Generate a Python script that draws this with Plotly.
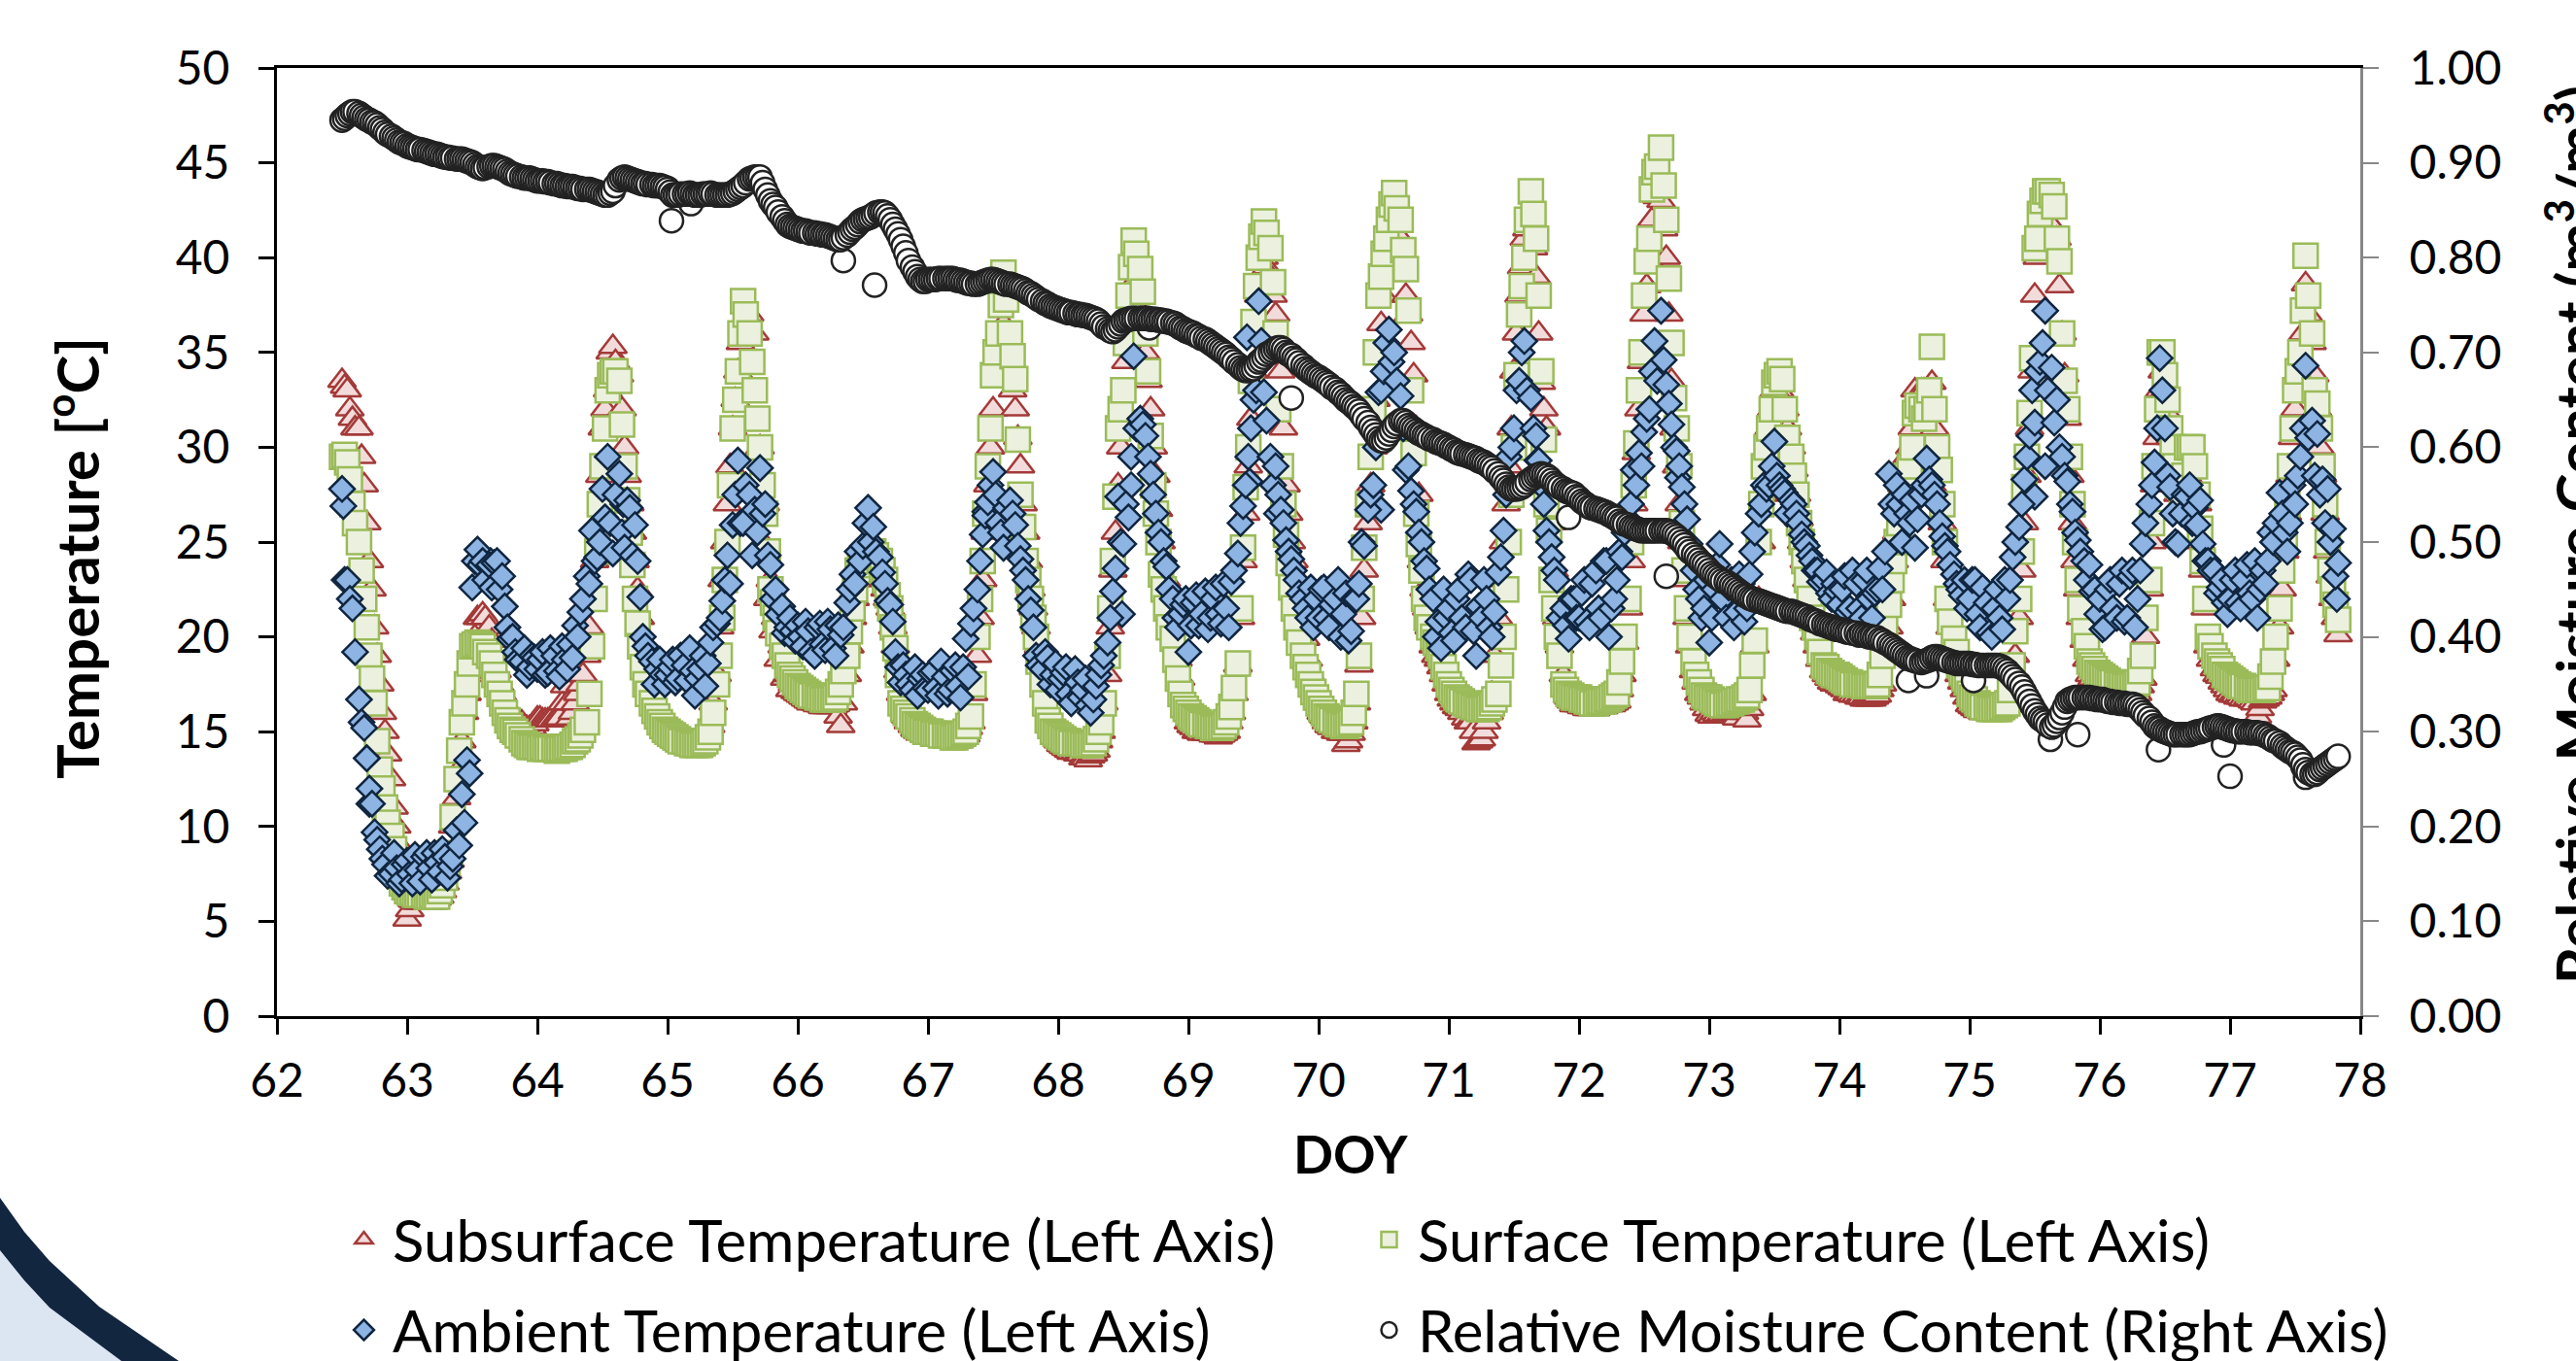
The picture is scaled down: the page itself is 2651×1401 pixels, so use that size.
import plotly.graph_objects as go

doy = [
 62.50,62.54,62.58,62.63,62.67,62.71,62.75,62.79,62.83,62.88,62.92,62.96,
 63.00,63.04,63.08,63.13,63.17,63.21,63.25,63.29,63.33,63.38,63.42,63.46,63.50,63.54,63.58,63.63,63.67,63.71,63.75,63.79,63.83,63.88,63.92,63.96,
 64.00,64.04,64.08,64.13,64.17,64.21,64.25,64.29,64.33,64.38,64.42,64.46,64.50,64.54,64.58,64.63,64.67,64.71,64.75,64.79,64.83,64.88,64.92,64.96,
 65.00,65.04,65.08,65.13,65.17,65.21,65.25,65.29,65.33,65.38,65.42,65.46,65.50,65.54,65.58,65.63,65.67,65.71,65.75,65.79,65.83,65.88,65.92,65.96,
 66.00,66.04,66.08,66.13,66.17,66.21,66.25,66.29,66.33,66.38,66.42,66.46,66.50,66.54,66.58,66.63,66.67,66.71,66.75,66.79,66.83,66.88,66.92,66.96,
 67.00,67.04,67.08,67.13,67.17,67.21,67.25,67.29,67.33,67.38,67.42,67.46,67.50,67.54,67.58,67.63,67.67,67.71,67.75,67.79,67.83,67.88,67.92,67.96,
 68.00,68.04,68.08,68.13,68.17,68.21,68.25,68.29,68.33,68.38,68.42,68.46,68.50,68.54,68.58,68.63,68.67,68.71,68.75,68.79,68.83,68.88,68.92,68.96,
 69.00,69.04,69.08,69.13,69.17,69.21,69.25,69.29,69.33,69.38,69.42,69.46,69.50,69.54,69.58,69.63,69.67,69.71,69.75,69.79,69.83,69.88,69.92,69.96,
 70.00,70.04,70.08,70.13,70.17,70.21,70.25,70.29,70.33,70.38,70.42,70.46,70.50,70.54,70.58,70.63,70.67,70.71,70.75,70.79,70.83,70.88,70.92,70.96,
 71.00,71.04,71.08,71.13,71.17,71.21,71.25,71.29,71.33,71.38,71.42,71.46,71.50,71.54,71.58,71.63,71.67,71.71,71.75,71.79,71.83,71.88,71.92,71.96,
 72.00,72.04,72.08,72.13,72.17,72.21,72.25,72.29,72.33,72.38,72.42,72.46,72.50,72.54,72.58,72.63,72.67,72.71,72.75,72.79,72.83,72.88,72.92,72.96,
 73.00,73.04,73.08,73.13,73.17,73.21,73.25,73.29,73.33,73.38,73.42,73.46,73.50,73.54,73.58,73.63,73.67,73.71,73.75,73.79,73.83,73.88,73.92,73.96,
 74.00,74.04,74.08,74.13,74.17,74.21,74.25,74.29,74.33,74.38,74.42,74.46,74.50,74.54,74.58,74.63,74.67,74.71,74.75,74.79,74.83,74.88,74.92,74.96,
 75.00,75.04,75.08,75.13,75.17,75.21,75.25,75.29,75.33,75.38,75.42,75.46,75.50,75.54,75.58,75.63,75.67,75.71,75.75,75.79,75.83,75.88,75.92,75.96,
 76.00,76.04,76.08,76.13,76.17,76.21,76.25,76.29,76.33,76.38,76.42,76.46,76.50,76.54,76.58,76.63,76.67,76.71,76.75,76.79,76.83,76.88,76.92,76.96,
 77.00,77.04,77.08,77.13,77.17,77.21,77.25,77.29,77.33,77.38,77.42,77.46,77.50,77.54,77.58,77.63,77.67,77.71,77.75,77.79,77.83,
]

doy_half = [
 62.52,62.56,62.60,62.65,62.69,62.73,62.77,62.81,62.85,62.90,62.94,62.98,
 63.02,63.06,63.10,63.15,63.19,63.23,63.27,63.31,63.35,63.40,63.44,63.48,63.52,63.56,63.60,63.65,63.69,63.73,63.77,63.81,63.85,63.90,63.94,63.98,
 64.02,64.06,64.10,64.15,64.19,64.23,64.27,64.31,64.35,64.40,64.44,64.48,64.52,64.56,64.60,64.65,64.69,64.73,64.77,64.81,64.85,64.90,64.94,64.98,
 65.02,65.06,65.10,65.15,65.19,65.23,65.27,65.31,65.35,65.40,65.44,65.48,65.52,65.56,65.60,65.65,65.69,65.73,65.77,65.81,65.85,65.90,65.94,65.98,
 66.02,66.06,66.10,66.15,66.19,66.23,66.27,66.31,66.35,66.40,66.44,66.48,66.52,66.56,66.60,66.65,66.69,66.73,66.77,66.81,66.85,66.90,66.94,66.98,
 67.02,67.06,67.10,67.15,67.19,67.23,67.27,67.31,67.35,67.40,67.44,67.48,67.52,67.56,67.60,67.65,67.69,67.73,67.77,67.81,67.85,67.90,67.94,67.98,
 68.02,68.06,68.10,68.15,68.19,68.23,68.27,68.31,68.35,68.40,68.44,68.48,68.52,68.56,68.60,68.65,68.69,68.73,68.77,68.81,68.85,68.90,68.94,68.98,
 69.02,69.06,69.10,69.15,69.19,69.23,69.27,69.31,69.35,69.40,69.44,69.48,69.52,69.56,69.60,69.65,69.69,69.73,69.77,69.81,69.85,69.90,69.94,69.98,
 70.02,70.06,70.10,70.15,70.19,70.23,70.27,70.31,70.35,70.40,70.44,70.48,70.52,70.56,70.60,70.65,70.69,70.73,70.77,70.81,70.85,70.90,70.94,70.98,
 71.02,71.06,71.10,71.15,71.19,71.23,71.27,71.31,71.35,71.40,71.44,71.48,71.52,71.56,71.60,71.65,71.69,71.73,71.77,71.81,71.85,71.90,71.94,71.98,
 72.02,72.06,72.10,72.15,72.19,72.23,72.27,72.31,72.35,72.40,72.44,72.48,72.52,72.56,72.60,72.65,72.69,72.73,72.77,72.81,72.85,72.90,72.94,72.98,
 73.02,73.06,73.10,73.15,73.19,73.23,73.27,73.31,73.35,73.40,73.44,73.48,73.52,73.56,73.60,73.65,73.69,73.73,73.77,73.81,73.85,73.90,73.94,73.98,
 74.02,74.06,74.10,74.15,74.19,74.23,74.27,74.31,74.35,74.40,74.44,74.48,74.52,74.56,74.60,74.65,74.69,74.73,74.77,74.81,74.85,74.90,74.94,74.98,
 75.02,75.06,75.10,75.15,75.19,75.23,75.27,75.31,75.35,75.40,75.44,75.48,75.52,75.56,75.60,75.65,75.69,75.73,75.77,75.81,75.85,75.90,75.94,75.98,
 76.02,76.06,76.10,76.15,76.19,76.23,76.27,76.31,76.35,76.40,76.44,76.48,76.52,76.56,76.60,76.65,76.69,76.73,76.77,76.81,76.85,76.90,76.94,76.98,
 77.02,77.06,77.10,77.15,77.19,77.23,77.27,77.31,77.35,77.40,77.44,77.48,77.52,77.56,77.60,77.65,77.69,77.73,77.77,77.81,
]

subsurface = [
 33.5,33,31.5,31,28,24,20.5,17.5,15,12.5,10,8,
 5.1,6.1,6,6,6,6.1,6.3,7,8.2,11.5,14.5,17,19,21,21.2,20.5,19,17.5,16.5,15.8,15.5,15.5,15.2,15.2,
 15.7,15.6,15.6,15.6,15.7,17.4,15.7,16.5,17.5,19,22,26,31,33,35.3,33.8,30,27,24,21,18.5,17,16,15.5,
 15,14.6,14.4,14.3,14.2,14.1,14.2,14.5,15.3,18,23,27,31,34,36,37,36,30,27,23,21,19.5,18,17.5,
 17,16.8,16.6,16.5,16.4,16.3,16.3,16.4,15.3,18,21,23,24,24,24,23.5,22.5,21.5,19.5,17,15.8,15.3,15,14.9,
 14.8,14.7,14.6,14.6,14.6,14.5,14.6,14.8,15.5,19,23,28,32,35,36.5,34,32,29,25.5,22.5,20.5,18.5,16.2,15.2,
 14.5,14.2,14,13.9,13.8,13.6,13.7,14,15,18,23.5,28,32,37,40,38.5,35,32,28.5,25,23,20.5,18.8,17,
 15.5,15.2,15,14.9,14.9,14.8,14.8,15,16,18.5,24,29,34,38,40,39,37,34,28,25,23,21,18.8,17.5,
 16.5,15.8,15.3,15,14.9,14.3,14.9,16.5,21,26,30,35,38,41,43,41,38,35.5,31,24,21.5,19.5,18.8,18,
 17,16.5,16.2,15.7,15.5,14.4,14.6,15.5,17,21,25,29,34,38,41,42,39,33.4,31,26,21,18,16.8,16.4,
 16.4,16.3,16.2,16.2,16.3,16.4,16.4,16.6,18,21.5,27,32,37,40,43.5,43,40,33.5,29,25,21,18.2,17,16.5,
 15.9,16,15.8,15.9,16,15.7,16.2,15.6,17,22,27.5,31,33,33,32,30,27.5,25,23,21,19.5,18.2,17.8,17.5,
 17.4,17.2,17,16.9,16.8,16.7,16.7,16.9,17.5,20.5,24,27,29,30,33,33,32.5,33.4,29,26,22,19.3,18,17.2,
 16.4,16.2,16.1,16,16,16,16.1,16.4,17,21,26,31,38,41,43,42.5,41,36,31.5,26,22.5,19.8,18,17.6,
 17.5,17.2,17,16.9,16.9,16.8,16.9,17,17.8,22.5,28,33,33,30.5,28.5,26.5,29.5,29,27,23.5,19.5,18.3,17.9,17.4,
 17,16.9,16.8,16.7,16.6,15.8,16.6,16.8,17.2,20.5,24.5,28.5,32,34.5,38.6,35.5,32,28.5,24.5,22,20.1,
]

subsurface_half = [
 33.2,32,31,29.5,26,22.5,19,16,13.8,11,9,7.2,
 5.6,6,6,6,6,6.2,6.6,7.6,10,13,16,18,20,21,21,19.8,18.2,17,16,15.6,15.5,15.3,15.2,15.4,
 15.7,15.6,15.6,15.7,16.5,16.5,16,17,18,20.5,24,28.5,32,35,34.5,32,28.5,25.5,22.5,19.8,17.7,16.5,15.7,15.2,
 14.8,14.5,14.3,14.2,14.1,14.1,14.3,14.8,16.5,20.5,25,29,32.5,35.5,36.5,33,28,25,22,20.3,18.8,17.8,17.2,17.1,
 16.9,16.7,16.5,16.4,16.3,16.3,16.3,15.8,16.5,19.5,22,23.5,24,24,23.8,23,22,20.5,18.2,16.4,15.5,15.1,14.9,14.9,
 14.7,14.6,14.6,14.5,14.5,14.5,14.7,15.2,17,21,25.5,30,33.5,35.8,35.5,33,30.5,27,24,21.5,19.5,17.4,15.7,14.9,
 14.3,14.1,13.9,13.8,13.6,13.5,13.8,14.5,16.5,20.5,25.5,30,34.5,38.5,39.5,37,33.5,30,26.7,24,21.8,19.6,17.8,16.2,
 15.3,15,14.9,14.9,14.8,14.7,14.9,15.5,17,21,26.5,31.5,36,39,39.5,38,35.5,31,26.5,24,22,19.9,18,17,
 16,15.5,15.2,15,14.9,14.5,15.5,18.5,23.5,28,32.5,36.5,39.5,42,42,39.5,37,33.8,27.5,22.5,20.5,19,18.4,17.5,
 16.7,16.3,16,15.5,15,14.5,15,16,19,23,27,31,36,39.5,41.5,40.5,36,32,28.5,23.5,19.5,17.3,16.6,16.4,
 16.3,16.2,16.2,16.3,16.3,16.4,16.5,17.2,19.7,24,29.7,34.5,38.5,42,43.2,41.5,37,31,27,23,19.5,17.6,16.8,16.2,
 15.8,15.9,15.9,16,16,16,16,16.2,19.5,25,29.5,32,33,32.5,31,28.8,26.2,24,22,20.2,18.8,18,17.6,17.5,
 17.3,17,16.9,16.8,16.7,16.7,16.8,17.2,19,22,25.5,28,29.5,31,32.5,33,32,31,27.5,24,20.5,18.6,17.6,16.8,
 16.3,16.1,16,16,16,16,16.2,16.7,19,23.5,28.5,34,40,42.3,42.8,41.5,38.5,33.8,28.5,24,21,18.8,17.8,17.5,
 17.3,17.1,16.9,16.9,16.8,16.9,16.9,17.4,20,25,30.5,34,31.8,29.3,27.5,28,29.5,28,25,21.5,18.8,18,17.6,17.2,
 16.9,16.8,16.7,16.7,16.5,16.2,16.7,17,18.8,22.5,26.5,30.5,33.2,36,37,33.8,30,26.5,23.2,21,
]

surface = [
 29.5,29.2,27,25,22,19,16.5,13,11,9.5,8,7,
 6.6,6.5,6.4,6.4,6.3,6.3,6.6,7.3,8.6,12.5,15.5,17.5,19.5,19.7,19.5,19,18,17,16,15.3,15,14.6,14.3,14.2,
 14.2,14.2,14.1,14.1,14.1,14.1,14.2,14.5,14.8,15.5,19.5,24.5,29,33,34,33.5,29,25.5,22,19.5,17.5,16.5,15.8,15.3,
 15,14.8,14.6,14.5,14.4,14.3,14.3,14.5,15,17.5,21,25,31,34,37.7,36,33,30,26.5,22.5,21,19.5,18.5,17.8,
 17.4,17.2,17,16.9,16.8,16.7,16.7,16.8,17.5,19,21.5,23.5,24,24.3,24.5,24,23,21.5,19.4,16.5,16,15.6,15.3,15.1,
 15,14.9,14.9,14.8,14.8,14.7,14.8,15,15.8,20,24,29,33.8,36,39.2,36,33.6,27.5,24,22,20,17.5,15.6,15,
 14.8,14.6,14.5,14.4,14.4,14.3,14.3,14.6,15.5,19,24,31,33,38,40.9,39.4,36,30.6,26.5,23.3,21.5,19.9,17.8,16.4,
 16,15.7,15.5,15.4,15.3,15.2,15.2,15.5,16.3,18.6,24.7,30,36.6,40,41.9,40.5,36,29,25.4,22.6,20.5,19,18,17.1,
 16.5,16,15.7,15.5,15.4,15.3,15.5,17,22,27,32,38,40.2,42,43.4,42,39.4,33,26.5,23.5,21,20,19.4,18.4,
 17.5,17,16.7,16.5,16.4,16.3,16.2,16.2,16.5,17,20,25,30,37,40,43.5,41,34,27,23,20,17.5,17,16.8,
 16.8,16.7,16.6,16.5,16.6,16.7,16.8,17,18.7,22,28,33,38,41,44.5,45.8,42,35.5,31,26,21.5,18.7,17.6,16.9,
 16.8,16.6,16.5,16.4,16.5,16.6,16.7,16.9,18.5,25,29,31,33.4,34,32,29.5,27.5,25,23,21,20,18.5,18.2,18,
 17.9,17.7,17.6,17.5,17.5,17.4,17.4,17.5,19,21.7,24,26,28,29,31.8,32,32,35.3,30,27,22,19.9,18.5,17.8,
 17,16.7,16.4,16.3,16.2,16.2,16.3,16.5,18.5,22,27.9,31.8,40.5,42.3,43.5,43.3,41,36,32,27,23,20.3,18.7,18.3,
 18,17.8,17.6,17.5,17.5,17.4,17.4,17.6,19,23,29,35,33.8,31,29,27,30,30,27.5,24,20,19,18.5,18,
 17.8,17.6,17.4,17.3,17.2,17.2,17.2,17.3,18.7,21.5,25,29,33,35,40.1,36,32.3,29,25,22.5,20.9,
]

surface_half = [
 29.6,28.3,26,23.5,20.5,17.8,14.5,12,10.2,8.8,7.4,6.8,
 6.5,6.4,6.4,6.3,6.4,6.3,6.9,7.9,10.5,14,16.5,18.6,19.6,19.6,19.2,18.6,17.5,16.5,15.6,15.1,14.8,14.4,14.2,14.2,
 14.1,14.1,14.1,14,14.1,14.2,14.3,14.6,15.1,17,22,27,31,33.8,34,31.2,27.2,23.8,20.7,18.4,17,16.1,15.5,15.1,
 14.9,14.7,14.5,14.4,14.3,14.3,14.4,14.7,16,19,23,28,32.5,36,37,34.5,31.5,28,24.5,21.8,20.2,19,18,17.6,
 17.3,17.1,16.9,16.8,16.7,16.7,16.7,17.1,18.2,20.3,22.5,23.8,24.2,24.4,24.3,23.5,22.2,20.5,18,16.2,15.8,15.4,15.2,15,
 15,14.9,14.8,14.8,14.7,14.8,14.9,15.3,17.5,22,26.5,31,35,37.5,37.8,34.8,30.4,25.8,23,21,18.7,16.5,15.3,14.9,
 14.7,14.5,14.4,14.4,14.3,14.3,14.4,15,16.5,21.5,27.4,32,35.5,39.5,40.2,38.2,34,28,25,22.5,20.5,18.8,17,16.2,
 15.8,15.6,15.4,15.3,15.2,15.2,15.3,15.8,17.3,21.5,27.9,33.5,38.5,41.1,41.3,38.7,32,27,23.9,21.5,19.7,18.4,17.5,16.8,
 16.2,15.8,15.6,15.4,15.3,15.4,16,19,24.7,29.5,35,39,41,42.8,42.6,40.4,37.2,29.7,24.9,22,20.5,19.7,19,18,
 17.2,16.8,16.6,16.4,16.3,16.2,16.2,16.3,16.7,18.5,22.5,27.5,33.8,38.5,42,42.3,38,30.4,25.6,21.5,19,17.2,16.9,16.8,
 16.7,16.6,16.5,16.6,16.6,16.7,16.9,17.6,20,25,30.2,35,39.8,43.6,44.8,43.8,38.9,32.6,29,23.5,20,18,17.2,16.8,
 16.7,16.5,16.4,16.5,16.6,16.7,16.8,17.2,19.8,27,30,32,33.8,33.6,30.5,28.5,26,24,22,20.5,19.2,18.4,18.1,18,
 17.8,17.6,17.5,17.5,17.4,17.4,17.4,18,20.5,23,25,27,28.5,30,32.2,31.5,33,32,28.8,25,20.8,19.2,18.1,17.6,
 16.8,16.5,16.3,16.2,16.2,16.2,16.4,17.2,20.3,24.5,29.5,34.7,41,43,43.5,42.7,39.8,33.5,29.5,25,21.5,19.5,18.5,18.1,
 17.9,17.7,17.6,17.5,17.4,17.4,17.5,18.2,21,26,32,35,32.5,30,28,28.5,30,29,25.7,22,19.5,18.7,18.3,17.9,
 17.7,17.5,17.4,17.2,17.2,17.2,17.3,17.9,20,23.5,27,31,34,37.2,38,33,31,27,23.5,21.7,
]

ambient = [
 27.8,23,21.5,16.7,15.2,12,9.7,8.8,8,7.5,7.8,7.2,
 8.2,7,7.7,8.4,7.8,8.6,7.6,8.4,7.9,9.8,11.7,13.5,22.6,24.6,24,23.8,23.9,22.5,21.6,19.9,19.2,18.7,18,19,
 18.3,19.2,18.1,19,17.9,18.8,19.6,20.6,21.3,23.2,25.6,24.2,27.8,29.5,24.4,28.6,24.7,26.8,25.9,22.1,19.5,18.7,18.3,18,
 18,18.8,17.8,18.5,19.4,16.9,18.3,17.4,19.7,20.7,21.9,24.3,25.9,29.3,26,27.5,26.7,28.9,27,23.8,22.5,21.6,20.5,20.3,
 20.6,19.5,20.3,19,20.7,19.3,20.4,19,20.1,21.8,23.3,24.5,24.8,26.8,25.8,24.2,22.8,21.7,19.2,17.6,18,17.2,16.9,18,
 17.2,18.2,16.9,17.9,17.2,18.5,16.8,19.9,20.7,22.5,25.4,27.1,28.7,26,24.7,27.2,25.9,24.1,23,21.4,19,18.3,18.9,18,
 17.2,18.1,17,18.3,16.8,17.8,16,17.4,18.5,19.7,22.4,27.4,24.9,26.3,34.8,31.5,30.6,28.6,26.5,25,23.7,22,20.5,21.7,
 19.2,21.8,20.6,22.4,21,22.6,20.7,21.5,22.9,24.4,26.9,29.5,32.5,37.7,32.9,29.5,29,26.7,25.1,24.1,23,22,21,20.5,
 21,22.6,20.5,22,20,22.3,20.3,22,25,26.7,28,32.9,34,36.2,35,32.7,28.8,27.7,26.6,25,23.6,22,20.8,22.5,
 21.5,19.8,22.5,20.5,23,19,21,22,20,23.4,25.6,29.5,31,33.5,35.6,32.6,30.6,28,25.6,24.2,23,21.5,19.9,22,
 21,23,20.5,23.5,21,24,21.5,23,24.2,26.2,28.8,29.7,30.8,32,35.6,37.2,33.3,31.2,29.8,27.9,26.2,23.5,22,21.5,
 19.7,22.5,24.9,21,23,21.3,22.8,21.5,24.5,26.5,28,28,30.3,28,27.6,27.2,26.5,25.4,24.8,24,23.5,23,22.3,22.8,
 21.7,23.2,21.5,22.8,21,23.5,21,22.5,22.5,28.6,26.5,27,27.5,26,24.7,27.5,29.4,28,27,25.3,24.5,23.3,22.5,23,
 22,23,20.5,21.8,20,22.5,20.4,22,24.2,25.8,28.3,30.6,31.3,34.5,37.2,34.2,32.5,29.5,28.2,26.6,25.1,24,23.8,22.5,
 22,20.5,23,21,23.5,21,23.5,22,24.9,27,29.2,34.7,31,27.9,25,26.5,27.4,26,25.9,24.9,24,23.5,22.6,21.8,
 22,23.5,21.5,23.8,22,21,23.5,24,25,27.6,25.5,26,27,29.5,34.3,31.4,30.7,28.3,27.8,25.7,23.9,
]

ambient_half = [
 23,22,19.2,15.5,13.6,11.2,9.3,8.3,7.4,8.6,7,8,
 7.5,8.5,7.1,8.6,7.2,8.1,8.8,7.3,8.3,9,10.2,12.8,24,23.8,23,22.6,24,23.2,20.5,20,18.8,19.4,18.4,18.9,
 18.8,18,19.4,18.2,19.5,18.3,18.9,20,22,22.8,24,25,26.3,26,27.5,25.5,27.2,24.3,24,20,19,17.5,18.8,17.5,
 18.4,17.6,19,17.7,18.2,17.8,19,18.6,20.5,21,23,22.8,27.5,26,28,24.3,25.5,26.5,24.3,22,21.2,20.2,21,19.8,
 20,20.8,19.2,20.5,19.6,20.8,19.4,20.6,20.5,22.5,22.8,24,26,25,24.5,23.4,21.9,20.8,18.4,18.5,17.5,18.4,17.8,17.3,
 18.1,17.3,18.7,17,18.2,17.4,18.4,17.9,21.5,24,26.4,28,27.5,25.5,26.8,26.5,24.8,23.5,22,20.5,18.5,19.2,17.5,18.6,
 17.8,18.4,16.5,17.6,17.2,16.4,16.7,18,19,21,23.6,25,27,29.5,31,31.2,29.5,27.5,25.5,24,22.5,21,21.2,22,
 20.6,22.2,21.2,20.4,22,21.2,22.8,20.5,23.5,26,28,31,33,35.6,31.4,28,27.5,26,24.5,23.5,22.3,21.5,22.6,22,
 22.5,21,21.7,23,21.2,19.8,22,22.8,24.8,27.5,30,33,35.5,34.5,33.5,31,29,27,25.5,24,22.5,20,19.4,21,
 20.2,22,21,23.3,20.3,21.6,23,20.5,21.3,24.2,27.5,30,33,35,33,31,29.3,27,25,23.5,21,20.6,22,21,
 22.3,20.8,22.8,21.5,24,20,22,24.5,25.5,27,28,29,31.5,34,33.5,34.6,32.3,30,29,27,24.9,22.5,21,23,
 21,23.8,22,22.6,20.5,23.3,20.8,23.3,25.5,27,27.8,29,28.5,27.8,26.5,27,26,25,24.3,23.5,22.9,23.4,22,22.4,
 22.5,21.3,23.5,21.5,23,22,22.3,23.6,24.5,27,28,25,26.5,27.2,26.2,28,28.3,27.5,26,24.8,23.8,22.8,22.2,21.5,
 23,21.2,22.6,20.2,21.5,21,23,23,25,27,29.5,33,34,35.5,33,31.3,30,28.5,27,25.5,24.5,23,22.4,21.2,
 20.4,22.5,21.5,22.8,20.8,23.2,20.5,23.5,26,28,31,33,28.5,26.5,24.9,27.5,28,26.8,27.2,24,23.5,22.3,23,21.2,
 23,21.8,23,22.3,24,22.5,22.8,25.5,26,26.5,24.5,28,28.5,31,30.5,28.5,27.5,26,25,23.2,
]

ambient_extra_doy = [62.51,62.69,62.71,63.64,64.66,67.44,68.49,68.56,69.45,69.47,69.68,70.48,71.68,72.76,75.50,75.58,77.82]
ambient_extra = [26.9,13.6,11.2,24,27,26.6,21.2,28,35.8,28.2,26.5,26.7,29.3,28.4,27.4,29,22]

moisture = [
 .945,.950,.954,.952,.948,.945,.942,.937,.932,.928,.924,.921,
 .918,.916,.914,.913,.911,.909,.908,.906,.905,.904,.904,.902,.900,.896,.894,.896,.897,.895,.893,.889,.887,.885,.884,.883,
 .881,.881,.880,.878,.877,.876,.875,.874,.873,.872,.871,.869,.867,.866,.870,.882,.885,.883,.881,.879,.878,.877,.876,.875,
 .872,.866,.866,.867,.868,.866,.866,.867,.868,.866,.866,.866,.868,.872,.876,.883,.885,.885,.872,.860,.853,.843,.835,.832,
 .830,.828,.827,.826,.825,.824,.822,.820,.819,.824,.830,.835,.840,.842,.845,.848,.847,.840,.830,.819,.805,.790,.780,.775,
 .777,.777,.778,.778,.778,.777,.776,.774,.773,.772,.774,.776,.777,.775,.773,.772,.770,.768,.765,.762,.758,.754,.751,.748,
 .746,.744,.742,.741,.740,.739,.737,.735,.730,.725,.722,.727,.733,.735,.736,.736,.736,.735,.735,.734,.733,.731,.728,.725,
 .722,.720,.717,.714,.710,.706,.702,.698,.693,.687,.682,.681,.683,.690,.695,.700,.704,.705,.700,.697,.692,.686,.681,.677,
 .674,.670,.666,.661,.656,.650,.646,.641,.634,.626,.617,.609,.607,.614,.622,.628,.626,.621,.617,.614,.611,.608,.605,.603,
 .600,.597,.594,.592,.590,.588,.585,.582,.578,.572,.565,.558,.556,.557,.560,.566,.570,.572,.570,.565,.560,.556,.553,.551,
 .546,.541,.537,.535,.533,.531,.528,.525,.520,.518,.515,.513,.512,.512,.512,.512,.512,.510,.506,.500,.493,.487,.481,.476,
 .470,.465,.461,.458,.454,.450,.446,.443,.440,.438,.436,.434,.432,.430,.428,.427,.425,.423,.421,.418,.416,.413,.411,.409,
 .408,.406,.405,.404,.403,.401,.400,.399,.396,.392,.388,.384,.380,.377,.375,.373,.375,.378,.379,.377,.375,.373,.372,.372,
 .372,.371,.370,.370,.370,.370,.368,.364,.358,.351,.342,.332,.322,.314,.310,.305,.311,.320,.332,.335,.336,.336,.336,.335,
 .334,.333,.332,.331,.330,.329,.329,.326,.320,.314,.306,.303,.300,.298,.297,.297,.297,.298,.300,.301,.303,.305,.306,.304,
 .302,.301,.300,.300,.299,.299,.298,.295,.291,.288,.283,.279,.276,.270,.260,.255,.257,.262,.266,.270,.274,
]

moisture_half = [
 .947,.952,.954,.950,.946,.943,.940,.935,.930,.926,.922,.920,
 .917,.915,.914,.912,.910,.909,.907,.906,.905,.904,.903,.901,.898,.895,.895,.897,.896,.894,.891,.888,.886,.884,.884,.882,
 .881,.880,.879,.878,.876,.875,.875,.873,.872,.872,.870,.868,.866,.868,.876,.884,.884,.882,.880,.878,.877,.876,.876,.874,
 .869,.866,.867,.867,.867,.866,.867,.867,.867,.866,.866,.867,.870,.874,.879,.884,.885,.879,.866,.856,.848,.839,.833,.831,
 .829,.828,.826,.825,.824,.823,.821,.819,.821,.827,.832,.838,.841,.843,.847,.848,.844,.835,.825,.812,.797,.785,.777,.775,
 .777,.777,.778,.778,.778,.776,.775,.773,.772,.773,.775,.777,.776,.774,.772,.771,.769,.767,.763,.760,.756,.752,.749,.747,
 .745,.743,.742,.740,.739,.738,.736,.733,.727,.723,.724,.730,.734,.736,.736,.736,.736,.735,.734,.733,.732,.730,.726,.723,
 .721,.718,.715,.712,.708,.704,.700,.695,.690,.684,.681,.682,.686,.692,.698,.702,.705,.703,.698,.694,.689,.683,.679,.675,
 .672,.668,.663,.658,.653,.648,.643,.638,.630,.621,.613,.607,.610,.618,.625,.628,.623,.619,.615,.612,.609,.606,.604,.601,
 .598,.595,.593,.591,.589,.586,.584,.580,.575,.568,.561,.556,.556,.558,.563,.568,.571,.571,.568,.562,.558,.554,.552,.548,
 .543,.539,.536,.534,.532,.529,.526,.522,.519,.516,.514,.512,.512,.512,.512,.512,.511,.508,.503,.497,.490,.484,.478,.473,
 .467,.463,.459,.456,.452,.448,.444,.441,.439,.437,.435,.433,.431,.429,.427,.426,.424,.422,.419,.417,.414,.412,.410,.408,
 .407,.405,.404,.402,.402,.400,.399,.397,.394,.390,.386,.382,.378,.376,.374,.374,.376,.379,.378,.376,.374,.372,.372,.372,
 .371,.370,.370,.370,.370,.369,.366,.361,.355,.347,.337,.327,.318,.312,.307,.307,.315,.326,.334,.336,.336,.336,.335,.334,
 .334,.332,.331,.330,.330,.329,.328,.323,.317,.310,.304,.301,.299,.297,.297,.297,.297,.299,.300,.302,.304,.306,.305,.303,
 .301,.300,.300,.299,.299,.298,.296,.293,.290,.285,.281,.278,.273,.265,.257,.255,.260,.264,.268,.272,
]

moisture_extra_doy = [65.00,65.03,65.18,66.35,66.59,68.70,69.79,71.92,72.67,74.53,74.67,75.03,75.62,75.63,75.83,76.45,76.95,77.00,77.56,77.58]
moisture_extra = [.873,.839,.857,.797,.771,.726,.652,.526,.464,.354,.359,.354,.292,.305,.297,.281,.286,.253,.263,.252]

temp_ticks = [0,5,10,15,20,25,30,35,40,45,50]
moist_ticks = [0,.1,.2,.3,.4,.5,.6,.7,.8,.9,1]
doy_ticks = list(range(62,79))


def merged(x1, y1, x2, y2, xe=(), ye=()):
    pairs = sorted(zip(x1 + x2, y1 + y2))
    return list(xe) + [p[0] for p in pairs], list(ye) + [p[1] for p in pairs]


W, H = 2651, 1401
L, R, T, B = 285, 2429, 70, 1046
PW, PH = R-L, B-T
FONT = "Lato"
TICK = 48
BIG = 60
px = lambda v: (v-L)/PW
py = lambda v: (B-v)/PH

fig = go.Figure()
sx, sy = merged(doy, subsurface, doy_half, subsurface_half)
fig.add_trace(go.Scatter(x=sx, y=sy, mode="markers", name="Subsurface Temperature (Left Axis)",
    marker=dict(symbol="triangle-up", size=25, color="#f2dcdb", line=dict(color="#a33a38", width=2.5)), legend="legend"))
sx, sy = merged(doy, surface, doy_half, surface_half)
fig.add_trace(go.Scatter(x=sx, y=sy, mode="markers", name="Surface Temperature (Left Axis)",
    marker=dict(symbol="square", size=25, color="#ebf1de", line=dict(color="#9bbb59", width=2.5)), legend="legend2"))
sx, sy = merged(doy, ambient, doy_half, ambient_half, ambient_extra_doy, ambient_extra)
fig.add_trace(go.Scatter(x=sx, y=sy, mode="markers", name="Ambient Temperature (Left Axis)",
    marker=dict(symbol="diamond", size=20, color="#8db4e2", line=dict(color="#10253f", width=2.5)), legend="legend3"))
sx, sy = merged(doy, moisture, doy_half, moisture_half, moisture_extra_doy, moisture_extra)
fig.add_trace(go.Scatter(x=sx, y=sy, mode="markers", yaxis="y2", name="Relative Moisture Content (Right Axis)",
    marker=dict(symbol="circle", size=24, color="#ffffff", line=dict(color="#222222", width=2.5)), legend="legend4"))

leg = lambda x, y: dict(x=px(x), y=py(y), xanchor="left", yanchor="middle", bgcolor="rgba(0,0,0,0)",
                        font=dict(family=FONT, size=BIG, color="#000"), itemwidth=49, borderwidth=0, tracegroupgap=0)

fig.update_layout(
    width=W, height=H, autosize=False, showlegend=True,
    margin=dict(l=L, r=W-R, t=T, b=H-B, autoexpand=False),
    paper_bgcolor="#ffffff", plot_bgcolor="#ffffff",
    font=dict(family=FONT, size=TICK, color="#000"),
    xaxis=dict(range=[62,78], tickmode="array", tickvals=doy_ticks, ticks="outside", ticklen=16, tickwidth=2.5,
               tickcolor="#000", linecolor="#000", linewidth=3, mirror=True, showgrid=False, zeroline=False,
               ticklabelstandoff=6, tickfont=dict(family=FONT, size=TICK)),
    yaxis=dict(range=[0,50], tickmode="array", tickvals=temp_ticks, ticks="outside", ticklen=16, tickwidth=2.5,
               tickcolor="#000", linecolor="#000", linewidth=3, showgrid=False, zeroline=False,
               ticklabelstandoff=20, tickfont=dict(family=FONT, size=TICK)),
    yaxis2=dict(range=[0,1], overlaying="y", side="right", tickmode="array", tickvals=moist_ticks, tickformat=".2f",
                ticks="outside", ticklen=16, tickwidth=2, tickcolor="#888888", linecolor="#888888", linewidth=3,
                showgrid=False, zeroline=False, ticklabelstandoff=22, tickfont=dict(family=FONT, size=TICK)),
    legend=leg(345,1276), legend2=leg(1400,1276), legend3=leg(345,1369), legend4=leg(1400,1369),
    annotations=[
        dict(text="<b>DOY</b>", xref="paper", yref="paper", x=px(1390), y=py(1187), showarrow=False,
             font=dict(family=FONT, size=54, color="#000"), xanchor="center", yanchor="middle"),
        dict(text="<b>Temperature [<sup>o</sup>C]</b>", xref="paper", yref="paper", x=px(75), y=py(575), showarrow=False,
             textangle=-90, font=dict(family=FONT, size=BIG, color="#000"), xanchor="center", yanchor="middle"),
        dict(text="<b>Relative Moisture Content (m<sup>3</sup>/m<sup>3</sup>)</b>", xref="paper", yref="paper", x=px(2647), y=py(551), showarrow=False,
             textangle=-90, font=dict(family=FONT, size=BIG, color="#000"), xanchor="center", yanchor="middle"),
    ],
    shapes=[
        dict(type="path", xref="paper", yref="paper", layer="below", line=dict(width=0), fillcolor="#12263f",
             path=f"M {px(0)} {py(1233)} L {px(25)} {py(1268)} L {px(51)} {py(1298)} L {px(102)} {py(1345)} L {px(184)} {py(1401)} L {px(0)} {py(1401)} Z"),
        dict(type="path", xref="paper", yref="paper", layer="below", line=dict(width=0), fillcolor="#dce6f2",
             path=f"M {px(0)} {py(1287)} L {px(25)} {py(1318)} L {px(51)} {py(1346)} L {px(125)} {py(1401)} L {px(0)} {py(1401)} Z"),
    ],
)
fig.write_html("out.html", post_script="document.body.style.margin='0';", config={"displayModeBar": False})
